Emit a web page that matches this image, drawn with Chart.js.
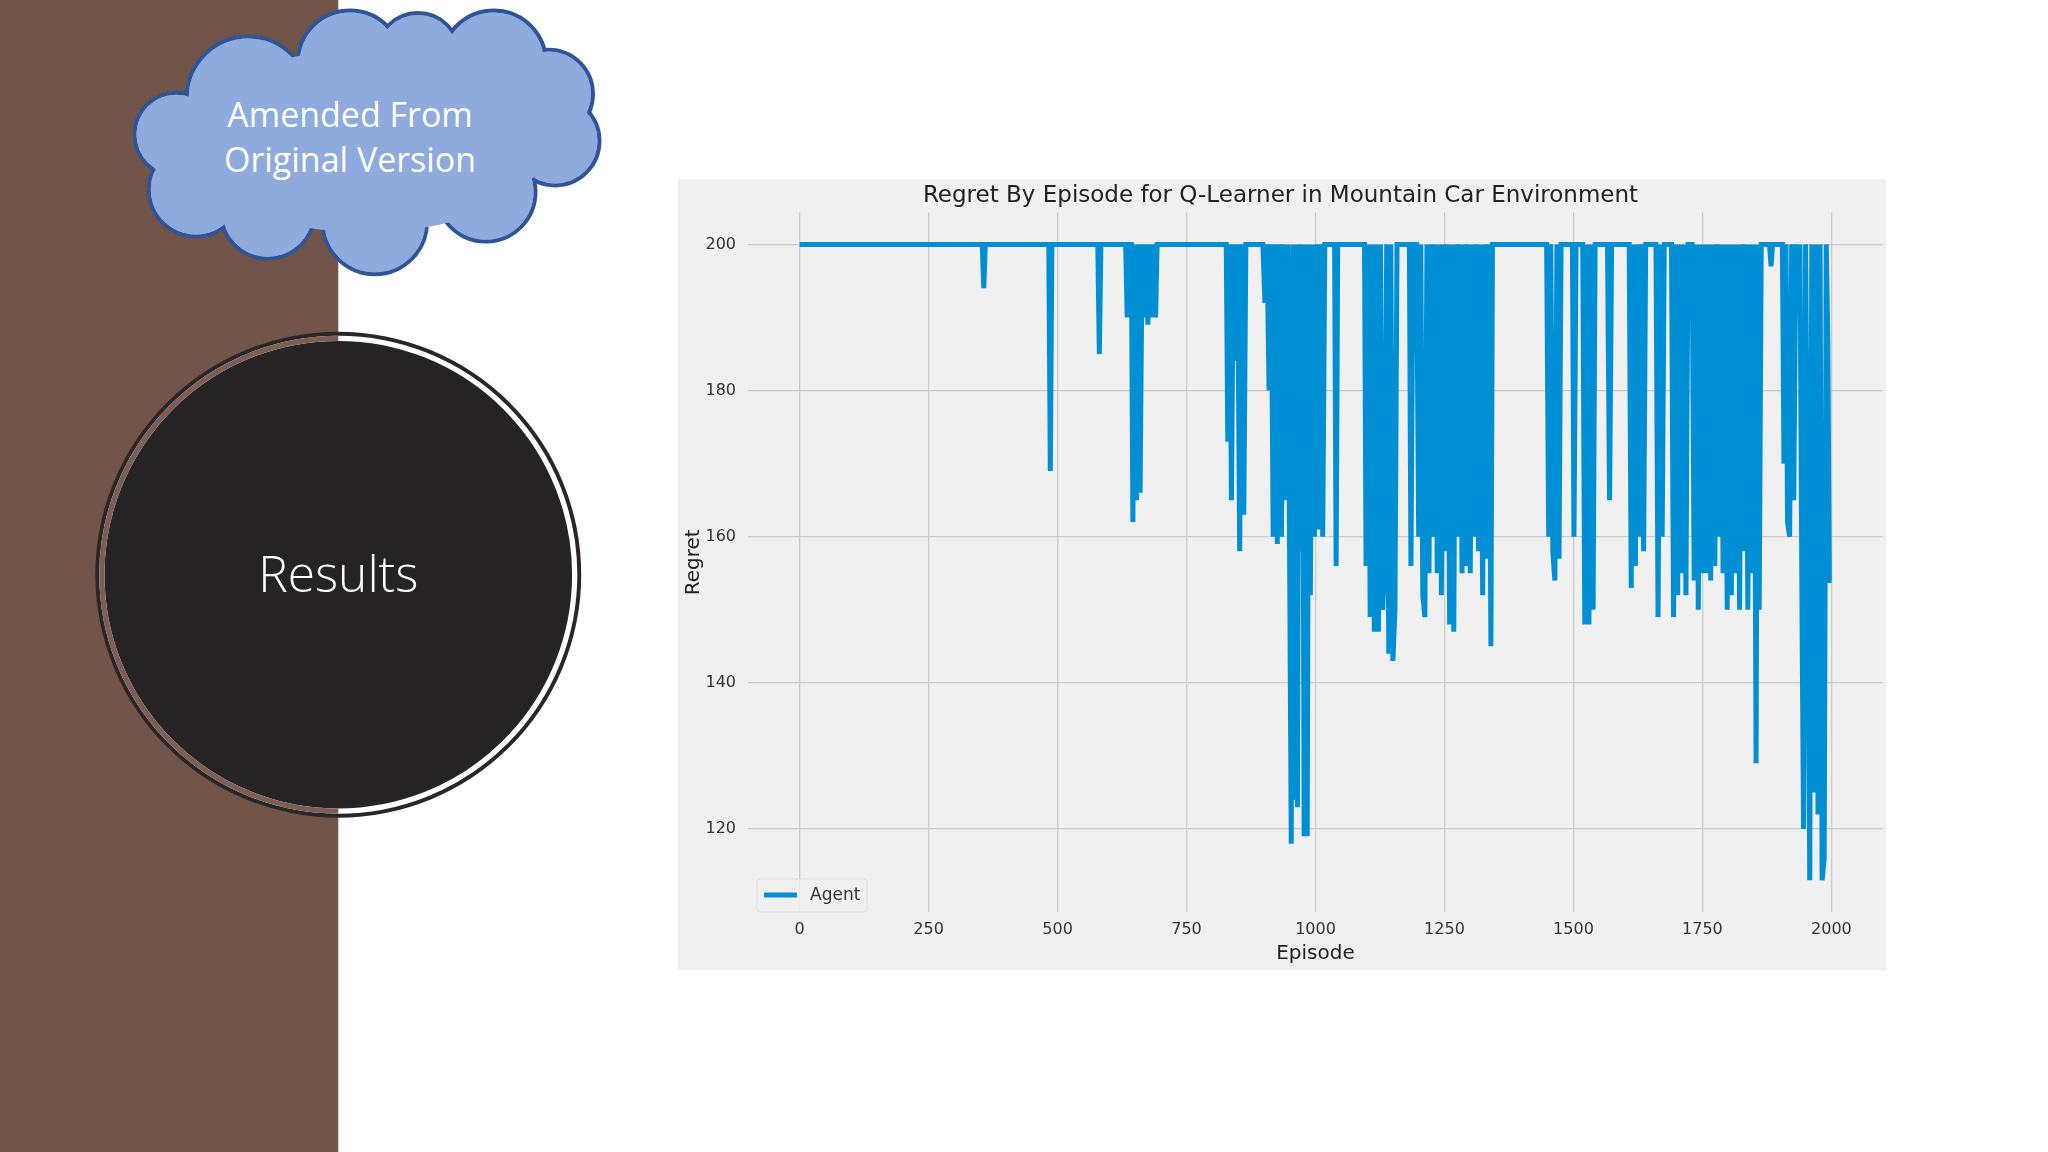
<!DOCTYPE html>
<html><head><meta charset="utf-8">
<script src="https://cdn.jsdelivr.net/npm/chart.js@4"></script>
<style>
html,body{margin:0;padding:0;background:#fff;width:2048px;height:1152px;overflow:hidden;font-family:"DejaVu Sans",sans-serif}
#deco{position:absolute;left:0;top:0}
#panel{position:absolute;left:678px;top:179px;width:1208px;height:791px;background:#f0f0f0}
</style></head><body>
<svg id="deco" width="2048" height="1152" viewBox="0 0 1568 882">
  <rect x="0" y="0" width="259" height="882" fill="#735449"/>
  <defs><clipPath id="lh"><rect x="0" y="0" width="259" height="882"/></clipPath></defs>
  <circle cx="259" cy="440" r="186" fill="#2a2627"/>
  <circle cx="259" cy="440" r="181" fill="none" stroke="#ffffff" stroke-width="4"/>
  <circle cx="259" cy="440" r="181" fill="none" stroke="#7d5e54" stroke-width="4" clip-path="url(#lh)"/>
  <circle cx="259" cy="440" r="178" fill="#252324"/>
  <text x="259" y="453" text-anchor="middle" fill="#fff" font-family="Open Sans" font-weight="300" font-size="38">Results</text>
  <g stroke="#2f5597" stroke-width="3" fill="#8faadc">
    <circle cx="190" cy="75" r="47"/><circle cx="268" cy="48" r="40"/><circle cx="320" cy="42" r="32"/>
    <circle cx="378" cy="48" r="40"/><circle cx="420" cy="72" r="34"/><circle cx="425" cy="108" r="34"/>
    <circle cx="372" cy="147" r="38"/><circle cx="287" cy="170" r="40"/><circle cx="205" cy="162" r="36"/>
    <circle cx="150" cy="145" r="36"/><circle cx="135" cy="103" r="32"/>
  </g>
  <g fill="#8faadc">
    <circle cx="190" cy="75" r="45.5"/><circle cx="268" cy="48" r="38.5"/><circle cx="320" cy="42" r="30.5"/>
    <circle cx="378" cy="48" r="38.5"/><circle cx="420" cy="72" r="32.5"/><circle cx="425" cy="108" r="32.5"/>
    <circle cx="372" cy="147" r="36.5"/><circle cx="287" cy="170" r="38.5"/><circle cx="205" cy="162" r="34.5"/>
    <circle cx="150" cy="145" r="34.5"/><circle cx="135" cy="103" r="30.5"/>
    <ellipse cx="280" cy="108" rx="140" ry="70"/>
  </g>
  <text x="268" y="97" text-anchor="middle" fill="#fff" font-family="Open Sans" font-size="26">Amended From</text>
  <text x="268" y="132" text-anchor="middle" fill="#fff" font-family="Open Sans" font-size="26">Original Version</text>
</svg>
<div id="panel"><canvas id="c" width="1208" height="791"></canvas></div>
<script>
const episodes = [0,354,357,360,483,486,489,578,581,584,632,635,638,643,646,650,653,657,660,664,667,671,675,679,683,687,690,693,
827,830,834,837,841,845,849,853,857,861,865,
898,902,906,910,914,918,922,926,930,934,938,942,946,950,953,956,959,962,965,968,972,975,978,981,984,987,990,994,998,1002,1006,1010,1014,1018,1037,1040,1043,
1095,1098,1102,1106,1110,1114,1118,1122,1126,1130,1134,1138,1142,1146,1150,1154,1158,1182,1185,1189,
1196,1200,1204,1208,1212,1216,1220,1224,1228,1232,1236,1240,1244,1248,1252,1256,1260,1264,1268,1272,1276,1280,1284,1288,1292,1296,1300,1304,1308,1312,1316,1320,1324,1328,1332,1336,1340,1343,
1448,1452,1456,1460,1464,1468,1472,1476,1498,1501,1505,1518,1522,1526,1530,1534,1538,1542,1566,1570,1574,
1608,1612,1616,1620,1624,1628,1632,1636,1640,1660,1664,1668,1672,1676,1690,1694,1698,1702,1706,1710,1714,1718,1722,1730,1734,1738,1742,1746,1750,1754,1758,1762,1766,1770,1774,1778,1782,1786,1790,1794,1798,1802,1806,1810,1814,1818,1822,1826,1830,1834,1838,1842,1846,1850,1854,1857,1860,1864,
1880,1883,1886,1905,1908,1912,1915,1919,1923,1927,1931,1935,1939,1943,1946,1950,1954,1958,1962,1966,1970,1974,1978,1982,1986,1990,1993,1996,2000];
const regret = [200,200,194,200,200,169,200,200,185,200,200,190,200,200,162,200,165,200,166,200,190,200,189,200,190,200,190,200,
200,173,200,165,200,184,200,158,200,163,200,
200,192,200,180,200,160,200,159,200,160,200,165,200,155,118,200,124,200,123,200,158,200,119,200,119,200,152,200,160,200,161,200,160,200,200,156,200,
200,156,200,149,200,147,200,147,200,150,156,200,144,200,143,150,200,200,156,200,
200,160,200,152,149,200,155,200,160,200,155,200,152,200,158,200,148,200,147,200,160,200,155,200,156,200,155,200,160,200,158,200,152,200,157,200,145,200,
200,160,200,158,154,200,157,200,200,160,200,200,148,200,148,200,150,200,200,165,200,
200,153,200,156,200,160,200,158,200,200,149,200,160,200,200,149,200,152,200,155,200,152,200,200,154,200,150,200,155,200,155,200,154,200,156,200,160,200,155,200,150,200,152,200,155,200,150,200,158,200,150,200,155,200,129,200,150,200,
200,197,200,200,170,200,162,160,200,165,200,197,200,150,120,200,160,113,200,125,200,122,200,113,116,200,187,154,154];
const xTicks = [0,250,500,750,1000,1250,1500,1750,2000];
const yTicks = [120,140,160,180,200];
const seriesName = 'Agent';
const titleText = 'Regret By Episode for Q-Learner in Mountain Car Environment';

const legendPlugin = {
  id:'legendBox',
  afterDraw(chart){
    const ctx = chart.ctx, a = chart.chartArea;
    const x = a.left + 9, y = a.bottom - 33;
    ctx.save();
    ctx.fillStyle = 'rgba(240,240,240,0.85)';
    ctx.strokeStyle = '#dddddd'; ctx.lineWidth = 1;
    ctx.beginPath(); ctx.roundRect(x, y, 110, 33, 3); ctx.fill(); ctx.stroke();
    ctx.strokeStyle = '#008fd5'; ctx.lineWidth = 5;
    ctx.beginPath(); ctx.moveTo(x+7, y+16); ctx.lineTo(x+40, y+16); ctx.stroke();
    ctx.fillStyle = '#333'; ctx.font = '17px "DejaVu Sans"'; ctx.textBaseline = 'middle';
    ctx.fillText(chart.data.datasets[0].label, x+53, y+17);
    ctx.restore();
  }
};

new Chart(document.getElementById('c'), {
  type:'line',
  data:{ datasets:[{ label:seriesName, data:episodes.map((e,i)=>({x:e,y:regret[i]})),
    borderColor:'#008fd5', borderWidth:5, pointRadius:0, tension:0, fill:false }]},
  options:{
    responsive:false, animation:false, devicePixelRatio:1,
    layout:{padding:{left:0,right:3,top:0,bottom:0}},
    plugins:{
      legend:{display:false}, tooltip:{enabled:false},
      title:{display:true, text:titleText, color:'#222', font:{family:'DejaVu Sans', size:23, weight:'normal'}, padding:{top:3,bottom:3}}
    },
    scales:{
      x:{ type:'linear', min:-100, max:2100,
        afterBuildTicks(s){ s.ticks = xTicks.map(v=>({value:v})); },
        afterFit(s){ s.height = 58; },
        grid:{color:'#cbcbcb', lineWidth:1.3, drawTicks:false}, border:{display:false},
        ticks:{color:'#333', font:{family:'DejaVu Sans', size:16}, padding:8, callback:v=>String(v)},
        title:{display:true, text:'Episode', color:'#222', font:{family:'DejaVu Sans', size:20}, padding:{top:0}}
      },
      y:{ min:108.65, max:204.35,
        afterBuildTicks(s){ s.ticks = yTicks.map(v=>({value:v})); },
        afterFit(s){ s.width = 70; },
        grid:{color:'#cbcbcb', lineWidth:1.3, drawTicks:false}, border:{display:false},
        ticks:{color:'#333', font:{family:'DejaVu Sans', size:16}, padding:12, callback:v=>String(v)},
        title:{display:true, text:'Regret', color:'#222', font:{family:'DejaVu Sans', size:20}, padding:{bottom:0}}
      }
    }
  },
  plugins:[legendPlugin]
});
</script>
</body></html>
